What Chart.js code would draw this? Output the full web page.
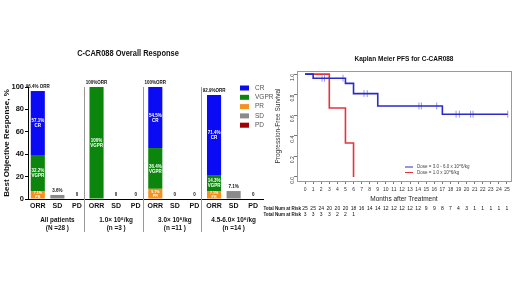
<!DOCTYPE html>
<html lang="en">
<head>
<meta charset="UTF-8" />
<title>C-CAR088 response and PFS</title>
<script src="https://cdn.jsdelivr.net/npm/chart.js"></script>
<style>
    * { margin: 0; padding: 0; box-sizing: border-box; }
    body {
        background: #fff;
        width: 520px; height: 292px;
        overflow: hidden;
        position: relative;
        font-family: 'Liberation Sans', Arial, sans-serif;
    }
    #resp { position: absolute; left: 0; top: 0; width: 290px; height: 292px; }
    #pfs  { position: absolute; left: 258px; top: 0; width: 262px; height: 292px; }
</style>
</head>
<body>
<canvas id="resp" width="290" height="292"></canvas>
<canvas id="pfs" width="262" height="292"></canvas>

<script>
// ---- response chart data ----
const categories = ['ORR', 'SD', 'PD', 'ORR', 'SD', 'PD', 'ORR', 'SD', 'PD', 'ORR', 'SD', 'PD'];
const groupLabels = [
    ['All patients', '(N =28 )'],
    ['1.0× 10⁶/kg', '(n =3 )'],
    ['3.0× 10⁶/kg', '(n =11 )'],
    ['4.5-6.0× 10⁶/kg', '(n =14 )']
];
const prValues   = [7.1, 0, 0,   0, 0, 0,   9.1, 0, 0,   7.1, 0, 0];
const vgprValues = [32.2, 0, 0,  100, 0, 0, 36.4, 0, 0,  14.3, 0, 0];
const crValues   = [57.1, 0, 0,  0, 0, 0,   54.5, 0, 0,  71.4, 0, 0];
const sdValues   = [0, 3.6, 0,   0, 0, 0,   0, 0, 0,     0, 7.1, 0];
const pdValues   = [0, 0, 0,     0, 0, 0,   0, 0, 0,     0, 0, 0];
const orrLabels  = ['96.4% ORR', '100%ORR', '100%ORR', '92.9%ORR'];
const responseTicks = [0, 20, 40, 60, 80, 100];

// ---- PFS data ----
const months = [0, 1, 2, 3, 4, 5, 6, 7, 8, 9, 10, 11, 12, 13, 14, 15, 16, 17, 18, 19, 20, 21, 22, 23, 24, 25];
const survTicks = [0, 0.2, 0.4, 0.6, 0.8, 1.0];
const highDoseT = [0, 1, 5, 6, 9, 17, 25.1];
const highDoseS = [1, 0.96, 0.91, 0.81, 0.69, 0.61, 0.61];
const lowDoseT  = [0, 3, 5, 6];
const lowDoseS  = [1, 0.67, 0.33, 0];
const censorT   = [2.1, 2.4, 4.7, 7.3, 7.7, 14.1, 14.4, 16.3, 18.7, 19.1, 20.5, 20.8, 25.1];
const censorS   = [0.96, 0.96, 0.96, 0.81, 0.81, 0.69, 0.69, 0.69, 0.61, 0.61, 0.61, 0.61, 0.61];
const riskHigh  = [25, 25, 24, 20, 20, 20, 18, 16, 14, 14, 12, 12, 12, 12, 12, 9, 9, 8, 7, 4, 3, 1, 1, 1, 1, 1];
const riskLow   = [3, 3, 3, 3, 2, 2, 1];

const FONT = "'Liberation Sans', Arial, sans-serif";
const COLORS = { CR: '#0a0af5', VGPR: '#0b850b', PR: '#f5911e', SD: '#8a8a8a', PD: '#a00000' };

// condensed text: the original uses a narrow face
function narrowText(ctx, text, x, y, sx) {
    ctx.save();
    ctx.translate(x, y);
    ctx.scale(sx, 1);
    ctx.fillText(text, 0, 0);
    ctx.restore();
}

// labels, separators, legend and title of the response chart
const respExtras = {
    id: 'respExtras',
    afterDatasetsDraw(chart) {
        const { ctx, chartArea, scales: { x, y } } = chart;
        ctx.save();
        ctx.textAlign = 'center';
        ctx.textBaseline = 'middle';

        // text inside stacked segments
        [[0, 'PR'], [1, 'VGPR'], [2, 'CR']].forEach(([di, name]) => {
            const meta = chart.getDatasetMeta(di);
            meta.data.forEach((bar, i) => {
                const v = chart.data.datasets[di].data[i];
                if (!v) return;
                const mid = (bar.y + bar.base) / 2;
                const small = v < 10;
                ctx.fillStyle = '#fff';
                ctx.font = `bold ${small ? 4 : 5}px ${FONT}`;
                narrowText(ctx, v + '%', bar.x, mid - (small ? 1.8 : 2.2), 0.9);
                narrowText(ctx, name, bar.x, mid + (small ? 2 : 3), 0.9);
            });
        });

        // labels above each bar
        ctx.fillStyle = '#111';
        ctx.font = `bold 5px ${FONT}`;
        categories.forEach((c, i) => {
            const total = chart.data.datasets.reduce((s, d) => s + d.data[i], 0);
            const top = y.getPixelForValue(total);
            const txt = c === 'ORR' ? orrLabels[i / 3] : (total ? total + '%' : '0');
            narrowText(ctx, txt, x.getPixelForValue(i), top - 4, 0.9);
        });

        // group separators
        ctx.strokeStyle = '#999';
        ctx.lineWidth = 1;
        for (let g = 1; g < groupLabels.length; g++) {
            const sx = Math.round((x.getPixelForValue(3 * g - 1) + x.getPixelForValue(3 * g)) / 2) - 2.5;
            ctx.beginPath();
            ctx.moveTo(sx, chartArea.top);
            ctx.lineTo(sx, chartArea.bottom + 33);
            ctx.stroke();
        }

        // group labels
        ctx.fillStyle = '#111';
        ctx.font = `bold 7.5px ${FONT}`;
        groupLabels.forEach((lines, g) => {
            const gx = x.getPixelForValue(3 * g + 1);
            narrowText(ctx, lines[0], gx, chartArea.bottom + 21, 0.85);
            narrowText(ctx, lines[1], gx, chartArea.bottom + 29, 0.85);
        });

        // legend
        const items = ['CR', 'VGPR', 'PR', 'SD', 'PD'];
        const lx = chartArea.right - 23;
        items.forEach((name, k) => {
            const ly = chartArea.top + 1 + k * 9.3;
            ctx.fillStyle = COLORS[name];
            ctx.fillRect(lx, ly - 2.5, 9, 5);
            ctx.fillStyle = '#555';
            ctx.textAlign = 'left';
            ctx.font = `6.5px ${FONT}`;
            ctx.fillText(name, lx + 15, ly);
        });

        // title
        ctx.textAlign = 'center';
        ctx.fillStyle = '#111';
        ctx.font = `bold 9px ${FONT}`;
        narrowText(ctx, 'C-CAR088 Overall Response', chartArea.left + 100, chartArea.top - 33, 0.83);
        ctx.restore();
    }
};

new Chart(document.getElementById('resp'), {
    type: 'bar',
    data: {
        labels: categories,
        datasets: [
            { label: 'PR', data: prValues, backgroundColor: COLORS.PR },
            { label: 'VGPR', data: vgprValues, backgroundColor: COLORS.VGPR },
            { label: 'CR', data: crValues, backgroundColor: COLORS.CR },
            { label: 'SD', data: sdValues, backgroundColor: COLORS.SD },
            { label: 'PD', data: pdValues, backgroundColor: COLORS.PD }
        ]
    },
    options: {
        responsive: false,
        animation: false,
        datasets: { bar: { barPercentage: 0.72, categoryPercentage: 1, borderWidth: 0 } },
        layout: { padding: { left: 0, right: 27, top: 87, bottom: 79 } },
        plugins: { legend: { display: false }, tooltip: { enabled: false } },
        scales: {
            x: {
                stacked: true,
                afterFit: s => { s.height = 14; },
                grid: { display: false, drawTicks: false },
                border: { color: '#000', width: 1 },
                ticks: { color: '#111', font: { family: FONT, size: 7, weight: 'bold' }, padding: 3, maxRotation: 0, autoSkip: false }
            },
            y: {
                stacked: true,
                min: 0, max: 100,
                afterBuildTicks: s => { s.ticks = responseTicks.map(v => ({ value: v })); },
                afterFit: s => { s.width = 28; },
                grid: { drawOnChartArea: false, drawTicks: true, tickLength: 3, color: '#000' },
                border: { color: '#000', width: 1 },
                ticks: { color: '#111', font: { family: FONT, size: 7.5, weight: 'bold' }, padding: 1 },
                title: { display: true, text: 'Best Objective Response, %', color: '#111', font: { family: FONT, size: 8, weight: 'bold' }, padding: { top: 2, bottom: 0 } }
            }
        }
    },
    plugins: [respExtras]
});

// box, title, legend and risk table of the PFS chart
const BLUE = '#2a2ac8';
const RED = '#e4333d';
const pfsExtras = {
    id: 'pfsExtras',
    afterDraw(chart) {
        const { ctx, chartArea, scales: { x } } = chart;
        ctx.save();
        ctx.strokeStyle = '#9a9a9a';
        ctx.lineWidth = 1;
        ctx.strokeRect(Math.round(chartArea.left) + 0.5, Math.round(chartArea.top) + 0.5,
            Math.round(chartArea.right - chartArea.left), Math.round(chartArea.bottom - chartArea.top));

        ctx.textBaseline = 'middle';
        ctx.textAlign = 'center';
        ctx.fillStyle = '#111';
        ctx.font = `bold 6.5px ${FONT}`;
        ctx.fillText('Kaplan Meier PFS for C-CAR088', (chartArea.left + chartArea.right) / 2, chartArea.top - 12);

        // legend inside the plot
        const lx = chartArea.left + 108;
        [[BLUE, 'Dose = 3.0 - 6.0 x 10^6/kg'], [RED, 'Dose = 1.0 x 10^6/kg']].forEach(([c, t], k) => {
            const ly = chartArea.bottom - 14 + k * 5.5;
            ctx.strokeStyle = c;
            ctx.lineWidth = 1;
            ctx.beginPath();
            ctx.moveTo(lx, ly);
            ctx.lineTo(lx + 8, ly);
            ctx.stroke();
            ctx.fillStyle = '#444';
            ctx.textAlign = 'left';
            ctx.font = `4.5px ${FONT}`;
            ctx.fillText(t, lx + 12, ly);
        });

        // number at risk
        const rows = [riskHigh, riskLow];
        rows.forEach((row, r) => {
            const ry = chartArea.bottom + 28 + r * 6;
            ctx.fillStyle = '#111';
            ctx.textAlign = 'right';
            ctx.font = `bold 4.5px ${FONT}`;
            ctx.fillText('Total Num at Risk', x.getPixelForValue(0) - 4, ry);
            ctx.textAlign = 'center';
            ctx.font = `5px ${FONT}`;
            row.forEach((n, i) => ctx.fillText(String(n), x.getPixelForValue(months[i]), ry));
        });
        ctx.restore();
    }
};

new Chart(document.getElementById('pfs'), {
    type: 'line',
    data: {
        datasets: [
            {
                label: 'Dose = 3.0 - 6.0 x 10^6/kg',
                data: highDoseT.map((t, i) => ({ x: t, y: highDoseS[i] })),
                borderColor: BLUE, borderWidth: 1.6, stepped: 'before', pointRadius: 0
            },
            {
                label: 'censored',
                data: censorT.map((t, i) => ({ x: t, y: censorS[i] })),
                showLine: false, pointStyle: 'line', rotation: 90, pointRadius: 3.5,
                borderColor: '#7a7ae0', pointBorderWidth: 0.8
            },
            {
                label: 'Dose = 1.0 x 10^6/kg',
                data: lowDoseT.map((t, i) => ({ x: t, y: lowDoseS[i] })),
                borderColor: RED, borderWidth: 1.6, stepped: 'before', pointRadius: 0
            }
        ]
    },
    options: {
        responsive: false,
        animation: false,
        layout: { padding: { left: 0, right: 9, top: 71, bottom: 89 } },
        plugins: { legend: { display: false }, tooltip: { enabled: false } },
        scales: {
            x: {
                type: 'linear', min: -1, max: 25.5,
                afterBuildTicks: s => { s.ticks = months.map(v => ({ value: v })); },
                afterFit: s => { s.height = 22; },
                grid: { drawOnChartArea: false, drawTicks: true, tickLength: 3, color: '#777' },
                border: { display: false },
                ticks: { color: '#333', font: { family: FONT, size: 5 }, padding: 3, maxRotation: 0, autoSkip: false },
                title: { display: true, text: 'Months after Treatment', color: '#222', font: { family: FONT, size: 6.5 }, padding: 0 }
            },
            y: {
                min: -0.04, max: 1.03,
                afterBuildTicks: s => { s.ticks = survTicks.map(v => ({ value: v })); },
                afterFit: s => { s.width = 39; },
                grid: { drawOnChartArea: false, drawTicks: true, tickLength: 3, color: '#777' },
                border: { display: false },
                ticks: { color: '#333', font: { family: FONT, size: 5 }, padding: 1, minRotation: 90, maxRotation: 90, callback: v => v.toFixed(1) },
                title: { display: true, text: 'Progression-Free Survival', color: '#333', font: { family: FONT, size: 6.5 }, padding: { top: 16, bottom: 0 } }
            }
        }
    },
    plugins: [pfsExtras]
});
</script>
</body>
</html>
